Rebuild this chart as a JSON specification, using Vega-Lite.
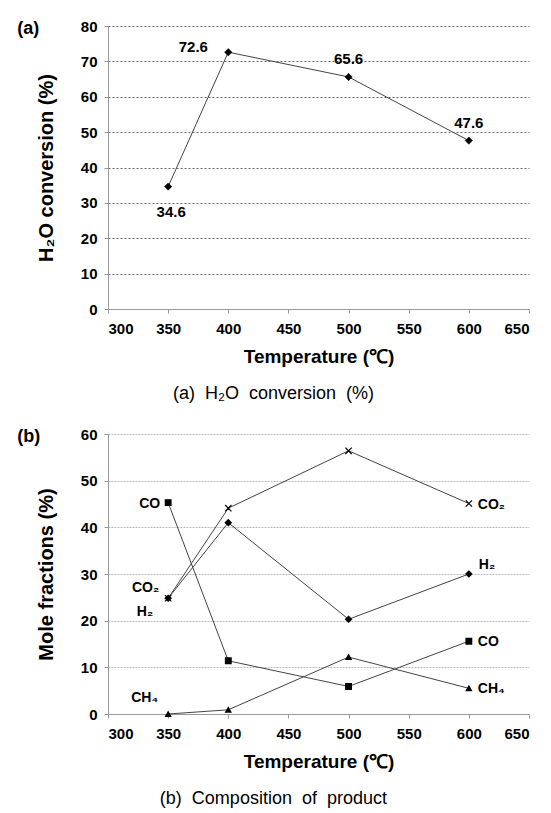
{
  "$schema": "https://vega.github.io/schema/vega-lite/v6.json",
  "padding": {"left": 17, "top": 19, "right": 5, "bottom": 2},
  "spacing": 24,
  "config": {
    "font": "Liberation Sans",
    "view": {"stroke": null},
    "axis": {
      "labelFont": "Liberation Sans", "labelFontSize": 15, "labelFontWeight": "bold", "labelColor": "#000",
      "titleFont": "Liberation Sans", "titleFontWeight": "bold", "titleColor": "#000",
      "domainColor": "#999", "tickColor": "#999", "tickSize": 4, "labelPadding": 6
    },
    "axisX": {"grid": false, "titleFontSize": 19, "titlePadding": 11, "labelPadding": 8},
    "axisY": {"grid": true, "titleFontSize": 20, "titlePadding": 24, "labelPadding": 7},
    "title": {"font": "Liberation Sans", "color": "#000"}
  },
  "vconcat": [
    {
      "title": {"text": "(a)\u00a0 H₂O\u00a0 conversion\u00a0 (%)", "orient": "bottom", "fontSize": 18, "fontWeight": "normal", "offset": 19, "anchor": "middle", "frame": "bounds"},
      "vconcat": [
        {
          "title": {"text": "(a)", "anchor": "start", "frame": "bounds", "orient": "top", "fontSize": 18, "fontWeight": "bold", "offset": -33, "dx": -19, "baseline": "alphabetic"},
          "width": 421,
          "height": 283,
          "data": {"values": [
            {"T": 350, "conv": 34.6},
            {"T": 400, "conv": 72.6},
            {"T": 500, "conv": 65.6},
            {"T": 600, "conv": 47.6}
          ]},
          "encoding": {
            "x": {"field": "T", "type": "quantitative", "scale": {"domain": [300, 650], "nice": false, "zero": false},
                  "axis": {"values": [300, 350, 400, 450, 500, 550, 600, 650], "title": "Temperature (℃)"}},
            "y": {"field": "conv", "type": "quantitative", "scale": {"domain": [0, 80], "nice": false},
                  "axis": {"values": [0, 10, 20, 30, 40, 50, 60, 70, 80], "title": "H₂O conversion (%)", "gridColor": "#666", "gridDash": [2, 2], "gridWidth": 1}}
          },
          "layer": [
            {"mark": {"type": "line", "color": "#444", "strokeWidth": 1}},
            {"mark": {"type": "point", "shape": "diamond", "size": 55, "filled": true, "fill": "#000", "stroke": "#000", "strokeWidth": 0.5, "opacity": 1}},
            {"transform": [{"filter": "datum.T == 350"}],
             "mark": {"type": "text", "fontSize": 15, "fontWeight": "bold", "align": "center", "baseline": "middle", "dx": 3, "dy": 25},
             "encoding": {"text": {"field": "conv", "type": "quantitative", "format": ".1f"}}},
            {"transform": [{"filter": "datum.T == 400"}],
             "mark": {"type": "text", "fontSize": 15, "fontWeight": "bold", "align": "center", "baseline": "middle", "dx": -35, "dy": -5},
             "encoding": {"text": {"field": "conv", "type": "quantitative", "format": ".1f"}}},
            {"transform": [{"filter": "datum.T >= 500"}],
             "mark": {"type": "text", "fontSize": 15, "fontWeight": "bold", "align": "center", "baseline": "middle", "dx": 0, "dy": -18},
             "encoding": {"text": {"field": "conv", "type": "quantitative", "format": ".1f"}}}
          ]
        }
      ]
    },
    {
      "title": {"text": "(b)\u00a0 Composition\u00a0 of\u00a0 product", "orient": "bottom", "fontSize": 18, "fontWeight": "normal", "offset": 19, "anchor": "middle", "frame": "bounds"},
      "vconcat": [
        {
          "title": {"text": "(b)", "anchor": "start", "frame": "bounds", "orient": "top", "fontSize": 18, "fontWeight": "bold", "offset": -33, "dx": -19, "baseline": "alphabetic"},
          "width": 421,
          "height": 280,
          "data": {"values": [
            {"series": "CO2", "name": "CO₂", "T": 350, "value": 24.8},
            {"series": "CO2", "name": "CO₂", "T": 400, "value": 44.1},
            {"series": "CO2", "name": "CO₂", "T": 500, "value": 56.4},
            {"series": "CO2", "name": "CO₂", "T": 600, "value": 45.1},
            {"series": "H2", "name": "H₂", "T": 350, "value": 24.8},
            {"series": "H2", "name": "H₂", "T": 400, "value": 41.0},
            {"series": "H2", "name": "H₂", "T": 500, "value": 20.3},
            {"series": "H2", "name": "H₂", "T": 600, "value": 30.0},
            {"series": "CO", "name": "CO", "T": 350, "value": 45.3},
            {"series": "CO", "name": "CO", "T": 400, "value": 11.4},
            {"series": "CO", "name": "CO", "T": 500, "value": 5.9},
            {"series": "CO", "name": "CO", "T": 600, "value": 15.6},
            {"series": "CH4", "name": "CH₄", "T": 350, "value": 0.0},
            {"series": "CH4", "name": "CH₄", "T": 400, "value": 0.9},
            {"series": "CH4", "name": "CH₄", "T": 500, "value": 12.2},
            {"series": "CH4", "name": "CH₄", "T": 600, "value": 5.5}
          ]},
          "encoding": {
            "x": {"field": "T", "type": "quantitative", "scale": {"domain": [300, 650], "nice": false, "zero": false},
                  "axis": {"values": [300, 350, 400, 450, 500, 550, 600, 650], "title": "Temperature (℃)"}},
            "y": {"field": "value", "type": "quantitative", "scale": {"domain": [0, 60], "nice": false},
                  "axis": {"values": [0, 10, 20, 30, 40, 50, 60], "title": "Mole fractions (%)", "gridColor": "#bbb", "gridDash": [2, 1], "gridWidth": 1}}
          },
          "layer": [
            {"mark": {"type": "line", "color": "#444", "strokeWidth": 1},
             "encoding": {"detail": {"field": "series", "type": "nominal"}}},
            {"mark": {"type": "point", "filled": true, "fill": "#000", "stroke": "#000", "strokeWidth": 1.2, "opacity": 1},
             "encoding": {
               "shape": {"field": "series", "type": "nominal", "scale": {"domain": ["CO2", "H2", "CO", "CH4"], "range": ["M-1,-1L1,1M-1,1L1,-1", "diamond", "square", "triangle-up"]}, "legend": null},
               "size": {"field": "series", "type": "nominal", "scale": {"domain": ["CO2", "H2", "CO", "CH4"], "range": [40, 28, 24, 30]}, "legend": null}
             }},
            {"transform": [{"filter": "datum.T == 350 && datum.series == 'CO'"}],
             "mark": {"type": "text", "fontSize": 14, "fontWeight": "bold", "align": "right", "baseline": "middle", "dx": -8, "dy": 1},
             "encoding": {"text": {"field": "name"}}},
            {"transform": [{"filter": "datum.T == 350 && datum.series == 'CO2'"}],
             "mark": {"type": "text", "fontSize": 14, "fontWeight": "bold", "align": "right", "baseline": "middle", "dx": -9, "dy": -10},
             "encoding": {"text": {"field": "name"}}},
            {"transform": [{"filter": "datum.T == 350 && datum.series == 'H2'"}],
             "mark": {"type": "text", "fontSize": 14, "fontWeight": "bold", "align": "right", "baseline": "middle", "dx": -15, "dy": 14},
             "encoding": {"text": {"field": "name"}}},
            {"transform": [{"filter": "datum.T == 350 && datum.series == 'CH4'"}],
             "mark": {"type": "text", "fontSize": 14, "fontWeight": "bold", "align": "right", "baseline": "middle", "dx": -10, "dy": -16},
             "encoding": {"text": {"field": "name"}}},
            {"transform": [{"filter": "datum.T == 600 && datum.series != 'H2'"}],
             "mark": {"type": "text", "fontSize": 14, "fontWeight": "bold", "align": "left", "baseline": "middle", "dx": 9, "dy": 1},
             "encoding": {"text": {"field": "name"}}},
            {"transform": [{"filter": "datum.T == 600 && datum.series == 'H2'"}],
             "mark": {"type": "text", "fontSize": 14, "fontWeight": "bold", "align": "left", "baseline": "middle", "dx": 10, "dy": -9},
             "encoding": {"text": {"field": "name"}}}
          ]
        }
      ]
    }
  ]
}
